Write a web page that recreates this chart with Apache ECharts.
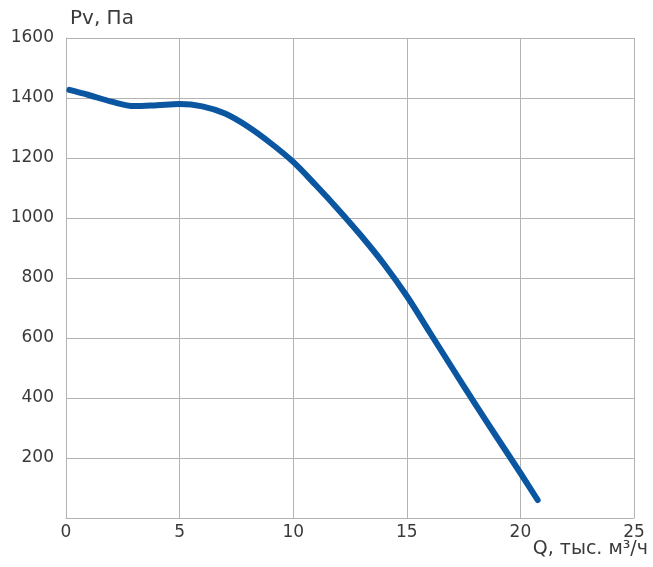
<!DOCTYPE html>
<html>
<head>
<meta charset="utf-8">
<script src="https://cdn.jsdelivr.net/npm/echarts@6/dist/echarts.min.js"></script>
<style>html,body{margin:0;padding:0;background:#fff}#c{width:653px;height:567px}</style>
</head>
<body>
<div id="c"></div>
<script>
var flowQ = [0.15, 1, 2, 3, 4, 5, 6, 7, 8, 9, 10, 11, 12, 13, 14, 15, 16, 17, 18, 19, 20, 20.76];
var pressurePv = [1427, 1410, 1388, 1373, 1376, 1380, 1372, 1348, 1305, 1250, 1187, 1109, 1027, 940, 846, 740, 620, 500, 381, 265, 150, 60];
var xTicks = [0, 5, 10, 15, 20, 25];
var yTicks = [0, 200, 400, 600, 800, 1000, 1200, 1400, 1600];
var yTitle = 'Pv, Па';
var xTitle = 'Q, тыс. м³/ч';

var chart = echarts.init(document.getElementById('c'));
var font = '"DejaVu Sans", sans-serif';
var txt = '#3a3a3a';
chart.setOption({
  animation: false,
  grid: {left: 66, right: 19, top: 38, bottom: 49, containLabel: false},
  xAxis: {
    type: 'value', min: xTicks[0], max: xTicks[xTicks.length - 1], interval: 5,
    axisLine: {show: true, lineStyle: {color: '#b3b3b3', width: 1}},
    axisTick: {show: false},
    splitLine: {show: true, lineStyle: {color: '#b3b3b3', width: 1}},
    axisLabel: {color: txt, fontSize: 17, fontFamily: font, margin: 6}
  },
  yAxis: {
    type: 'value', min: yTicks[0], max: yTicks[yTicks.length - 1], interval: 200,
    axisLine: {show: true, lineStyle: {color: '#b3b3b3', width: 1}},
    axisTick: {show: false},
    splitLine: {show: true, lineStyle: {color: '#b3b3b3', width: 1}},
    axisLabel: {color: txt, fontSize: 17, fontFamily: font, margin: 12,
      formatter: function (v) { return v === 0 ? '' : String(v); }}
  },
  graphic: [
    {type: 'text', left: 70, top: 9, style: {text: yTitle, fill: txt, fontSize: 20, fontFamily: font}},
    {type: 'text', right: 5, top: 540, style: {text: xTitle, fill: txt, fontSize: 19, fontFamily: font}}
  ],
  series: [{
    type: 'line', smooth: 0.35, showSymbol: false,
    data: flowQ.map(function (q, i) { return [q, pressurePv[i]]; }),
    lineStyle: {color: '#0a56a0', width: 6, cap: 'round', join: 'round'}
  }]
});
</script>
</body>
</html>
